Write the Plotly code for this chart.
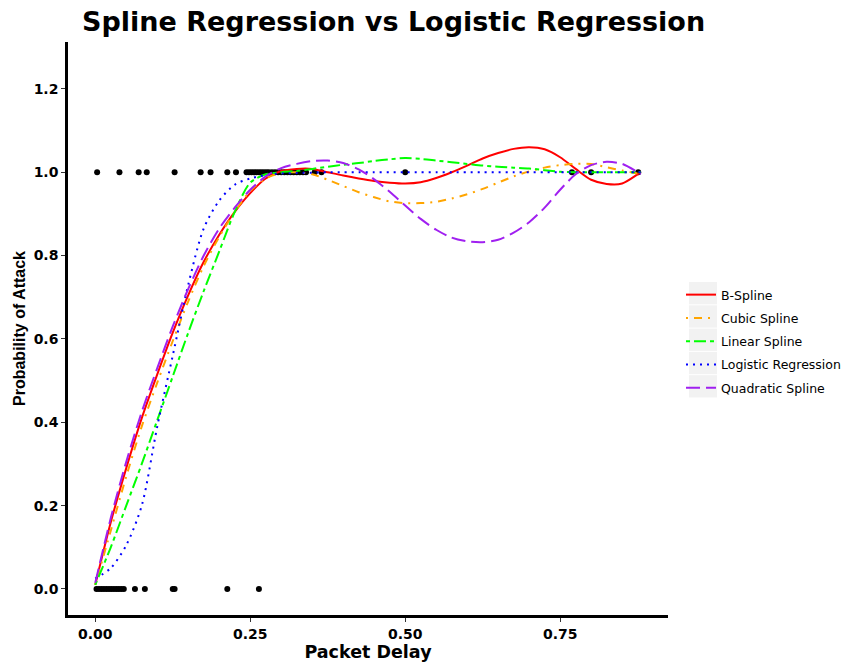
import plotly.graph_objects as go

title = "Spline Regression vs Logistic Regression"

x_grid = [0, 0.025, 0.05, 0.075, 0.1, 0.125, 0.15, 0.175, 0.2, 0.225, 0.25, 0.275, 0.3,
          0.325, 0.35, 0.375, 0.4, 0.425, 0.45, 0.475, 0.5, 0.525, 0.55, 0.575, 0.6,
          0.625, 0.65, 0.675, 0.7, 0.725, 0.75, 0.775, 0.8, 0.825, 0.85, 0.875, 0.88]

b_spline = [0.01, 0.16, 0.29, 0.41, 0.515, 0.615, 0.705, 0.785, 0.85, 0.905, 0.95, 0.985, 1.003,
            1.008, 1.008, 1.0, 0.992, 0.985, 0.979, 0.975, 0.973, 0.976, 0.986, 1.0, 1.016,
            1.033, 1.046, 1.056, 1.06, 1.055, 1.036, 1.008, 0.982, 0.972, 0.973, 0.995, 1.0]

cubic_spline = [0.01, 0.14, 0.27, 0.39, 0.495, 0.595, 0.69, 0.775, 0.845, 0.905, 0.955, 0.985, 0.998,
                1.0, 0.995, 0.982, 0.967, 0.952, 0.94, 0.93, 0.926, 0.926, 0.929, 0.937, 0.947,
                0.96, 0.975, 0.99, 1.002, 1.011, 1.017, 1.02, 1.02, 1.012, 1.004, 0.997, 0.996]

linear_spline = [0.01, 0.1, 0.2, 0.3, 0.405, 0.51, 0.615, 0.715, 0.81, 0.905, 0.975, 0.995, 1.0,
                 1.003, 1.008, 1.013, 1.018, 1.022, 1.027, 1.031, 1.034, 1.032, 1.028, 1.024, 1.02,
                 1.016, 1.013, 1.011, 1.009, 1.005, 1.001, 1.0, 1.0, 1.0, 1.0, 1.0, 1.0]

logistic = [0.025, 0.05, 0.105, 0.2, 0.39, 0.56, 0.73, 0.865, 0.932, 0.97, 0.985, 0.993, 0.997,
            0.998, 0.999, 1.0, 1.0, 1.0, 1.0, 1.0, 1.0, 1.0, 1.0, 1.0, 1.0,
            1.0, 1.0, 1.0, 1.0, 1.0, 1.0, 1.0, 1.0, 1.0, 1.0, 1.0, 1.0]

quadratic_spline = [0.015, 0.17, 0.305, 0.425, 0.53, 0.63, 0.72, 0.8, 0.865, 0.915, 0.958, 0.99, 1.01,
                    1.02, 1.027, 1.028, 1.022, 1.007, 0.983, 0.953, 0.92, 0.888, 0.862, 0.843, 0.834,
                    0.832, 0.838, 0.855, 0.88, 0.915, 0.958, 0.995, 1.017, 1.025, 1.02, 1.0, 0.995]

attack_x = [0.003, 0.039, 0.070, 0.083, 0.128, 0.170, 0.186, 0.213, 0.227,
            0.244, 0.248, 0.252, 0.256, 0.26, 0.264, 0.268, 0.272, 0.276, 0.28, 0.285,
            0.29, 0.295, 0.3, 0.305, 0.31, 0.315, 0.32, 0.325, 0.33, 0.335, 0.34,
            0.354, 0.365, 0.5, 0.769, 0.8, 0.876]
normal_x = [0.002, 0.006, 0.01, 0.014, 0.018, 0.022, 0.026, 0.03, 0.034, 0.038, 0.042, 0.046,
            0.064, 0.08, 0.125, 0.128, 0.213, 0.264]

x_ticks = [0, 0.25, 0.5, 0.75]
x_tick_labels = ["0.00", "0.25", "0.50", "0.75"]
y_ticks = [0, 0.2, 0.4, 0.6, 0.8, 1.0, 1.2]
y_tick_labels = ["0.0", "0.2", "0.4", "0.6", "0.8", "1.0", "1.2"]

series = [
    ("B-Spline", b_spline, "#FF0000", "solid"),
    ("Cubic Spline", cubic_spline, "#FFA500", "2px,6px,8px,6px"),
    ("Linear Spline", linear_spline, "#00FF00", "4px,4px,12px,4px"),
    ("Logistic Regression", logistic, "#0000FF", "2px,5px"),
    ("Quadratic Spline", quadratic_spline, "#A020F0", "14px,6px"),
]

fig = go.Figure()
fig.add_trace(go.Scatter(x=attack_x, y=[1] * len(attack_x), mode="markers",
                         marker=dict(color="black", size=6), showlegend=False, hoverinfo="skip"))
fig.add_trace(go.Scatter(x=normal_x, y=[0] * len(normal_x), mode="markers",
                         marker=dict(color="black", size=6), showlegend=False, hoverinfo="skip"))
for name, vals, col, dash in series:
    fig.add_trace(go.Scatter(x=x_grid, y=vals, mode="lines", name=name, legendgroup=name,
                             line=dict(color=col, width=2, dash=dash, shape="spline", smoothing=0.8)))

W, H = 852, 664
L, R, T, B = 68, 668, 42, 615

# grey legend key backgrounds
shapes = []
for i in range(5):
    y0 = 282 + i * 23.3
    shapes.append(dict(type="rect", xref="paper", yref="paper",
                       x0=(689 - L) / (R - L), x1=(717 - L) / (R - L),
                       y0=(B - (y0 + 22.3)) / (B - T), y1=(B - y0) / (B - T),
                       fillcolor="#F2F2F2", line=dict(width=0), layer="below"))

tick_font = dict(family="DejaVu Sans", size=14, color="black", weight="bold")
fig.update_layout(
    width=W, height=H,
    margin=dict(l=L, r=W - R, t=T, b=H - B, autoexpand=False),
    plot_bgcolor="white", paper_bgcolor="white",
    title=dict(text=title, x=82 / W, xref="container", xanchor="left",
               y=1 - 22 / H, yref="container", yanchor="middle",
               font=dict(family="DejaVu Sans", size=27, color="black", weight="bold")),
    xaxis=dict(range=[-0.044, 0.924], tickvals=x_ticks, ticktext=x_tick_labels,
               automargin=False,
               showgrid=False, zeroline=False, showline=True, linecolor="black", linewidth=2.5,
               ticks="outside", ticklen=4, tickwidth=1, tickcolor="#333333",
               tickfont=tick_font,
               title=dict(text="Packet Delay", standoff=4,
                          font=dict(family="DejaVu Sans", size=17.5, color="black", weight="bold"))),
    yaxis=dict(range=[-0.0625, 1.3125], tickvals=y_ticks, ticktext=y_tick_labels,
               automargin=False,
               showgrid=False, zeroline=False, showline=True, linecolor="black", linewidth=2.5,
               ticks="outside", ticklen=4, tickwidth=1, tickcolor="#333333",
               tickfont=tick_font,
               title=dict(text="Probability of Attack", standoff=5,
                          font=dict(family="Liberation Sans", size=16, color="black", weight="bold"))),
    legend=dict(x=(681 - L) / (R - L), xanchor="left", y=(B - 341.5) / (B - T), yanchor="middle",
                bgcolor="rgba(0,0,0,0)", tracegroupgap=4,
                font=dict(family="DejaVu Sans", size=12.5, color="black")),
    shapes=shapes,
)

fig.write_html("out.html")
